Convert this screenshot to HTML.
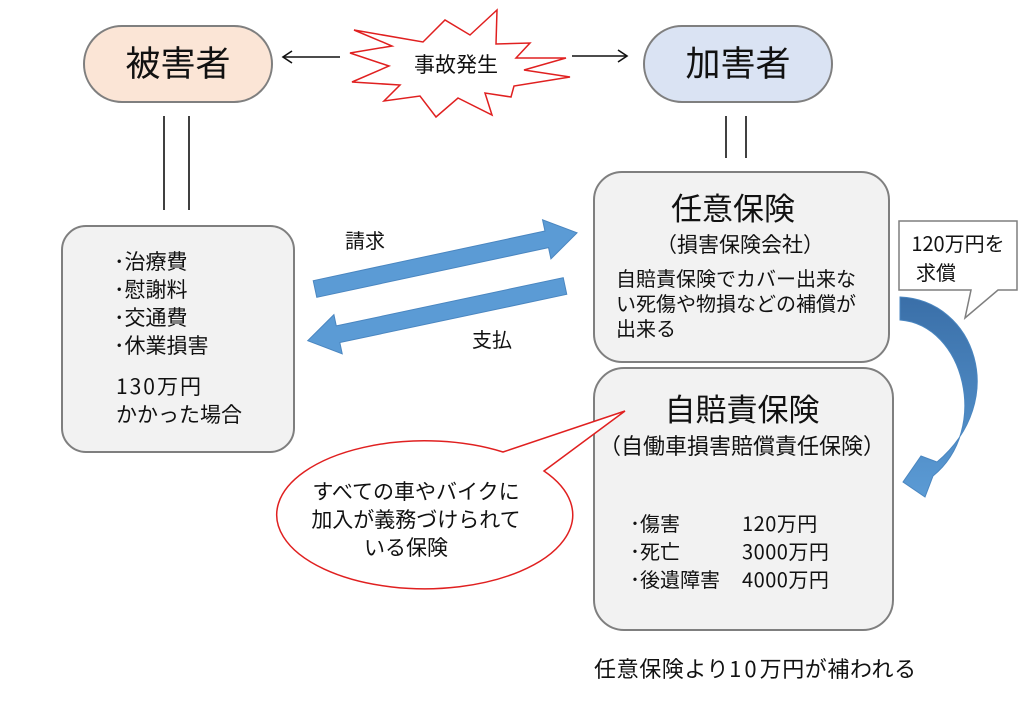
<!DOCTYPE html>
<html><head><meta charset="utf-8"><style>
html,body{margin:0;padding:0;background:#fff;}
svg{display:block;}
text{font-family:"Noto Sans CJK JP",sans-serif;fill:#111;}
</style></head><body>
<svg width="1024" height="709" viewBox="0 0 1024 709" xmlns="http://www.w3.org/2000/svg">
<defs>
<linearGradient id="cg" x1="0" y1="0" x2="0" y2="1">
<stop offset="0" stop-color="#3a6fa8"/><stop offset="1" stop-color="#5b9bd5"/></linearGradient>
</defs>
<rect x="84" y="26" width="188" height="76" rx="38" fill="#fbe5d6" stroke="#7f7f7f" stroke-width="2"/>
<text x="178" y="76" font-size="35" text-anchor="middle">被害者</text>
<rect x="644" y="26" width="188" height="76" rx="38" fill="#dae3f3" stroke="#7f7f7f" stroke-width="2"/>
<text x="738" y="76" font-size="35" text-anchor="middle">加害者</text>
<polygon points="354,30 423,42 445,20 470,35 497,10 496,44 530,43 516,58 566,58 524,70 570,77 514,86 511,97 485,93 492,115 458,98 436,117 420,96 384,101 400,85 352,82 389,66 350,53 392,46" fill="#fff" stroke="#e02020" stroke-width="1.5"/>
<text x="456" y="72" font-size="21" text-anchor="middle">事故発生</text>
<g stroke="#111" stroke-width="1.6" fill="none">
<line x1="340" y1="57" x2="283" y2="57"/><polyline points="292,51 283,57 292,63"/>
<line x1="572" y1="56" x2="627" y2="56"/><polyline points="618,50 627,56 618,62"/>
<line x1="164" y1="116" x2="164" y2="210"/><line x1="189" y1="116" x2="189" y2="210"/>
<line x1="726" y1="116" x2="726" y2="158"/><line x1="746" y1="116" x2="746" y2="158"/>
</g>
<rect x="62" y="226" width="232" height="226" rx="24" fill="#f2f2f2" stroke="#7f7f7f" stroke-width="2"/>
<g font-size="21">
<text x="114" y="269">･治療費</text>
<text x="114" y="297">･慰謝料</text>
<text x="114" y="325">･交通費</text>
<text x="114" y="353">･休業損害</text>
<text x="116" y="394" letter-spacing="2">130万円</text>
<text x="116" y="422">かかった場合</text>
</g>
<g transform="translate(315,289) rotate(-12.1)">
<polygon points="0,-8.5 237,-8.5 237,-20 268,0 237,20 237,8.5 0,8.5" fill="#5b9bd5" stroke="#4a86c0" stroke-width="1"/>
</g>
<g transform="translate(565,286) rotate(168)">
<polygon points="0,-8.5 232,-8.5 232,-20 263,0 232,20 232,8.5 0,8.5" fill="#5b9bd5" stroke="#4a86c0" stroke-width="1"/>
</g>
<text x="345" y="248" font-size="20">請求</text>
<text x="472" y="347" font-size="20">支払</text>
<rect x="594" y="172" width="295" height="190" rx="28" fill="#f2f2f2" stroke="#7f7f7f" stroke-width="2"/>
<text x="733" y="220" font-size="31" text-anchor="middle">任意保険</text>
<text x="740" y="252" font-size="21" text-anchor="middle">（損害保険会社）</text>
<g font-size="20">
<text x="616" y="286">自賠責保険でカバー出来な</text>
<text x="616" y="311">い死傷や物損などの補償が</text>
<text x="616" y="336">出来る</text>
</g>
<rect x="594" y="368" width="299" height="262" rx="30" fill="#f2f2f2" stroke="#7f7f7f" stroke-width="2"/>
<text x="742" y="421" font-size="31" text-anchor="middle">自賠責保険</text>
<text x="742" y="454" font-size="22" text-anchor="middle">（自働車損害賠償責任保険）</text>
<g font-size="20">
<text x="630" y="531">･傷害</text><text x="742" y="531" letter-spacing="0.5">120万円</text>
<text x="630" y="559">･死亡</text><text x="742" y="559" letter-spacing="0.5">3000万円</text>
<text x="630" y="587">･後遺障害</text><text x="742" y="587" letter-spacing="0.5">4000万円</text>
</g>
<text x="594" y="677" font-size="22" letter-spacing="0.6">任意保険より<tspan letter-spacing="3">10</tspan>万円が補われる</text>
<path d="M899,221 L1017,221 L1017,290 L998,290 L965,318 L971,290 L899,290 Z" fill="#fff" stroke="#7f7f7f" stroke-width="1.5"/>
<text x="958" y="251" font-size="20" text-anchor="middle">120万円を</text>
<text x="936" y="280" font-size="20" text-anchor="middle">求償</text>
<path d="M900,297 C975,300 1010,400 937,462 L921,456 L903,482 L925,497 L933,476 C990,430 965,325 900,320 Z" fill="url(#cg)" stroke="#4a86c0" stroke-width="1"/>
<path d="M503,452 L625,411 L544,471 A148,74 0 1 1 503,452 Z" fill="#fff" stroke="#e02020" stroke-width="1.5"/>
<g font-size="21" text-anchor="middle">
<text x="416" y="499">すべての車やバイクに</text>
<text x="416" y="527">加入が義務づけられて</text>
<text x="406" y="555">いる保険</text>
</g>
</svg>
</body></html>
